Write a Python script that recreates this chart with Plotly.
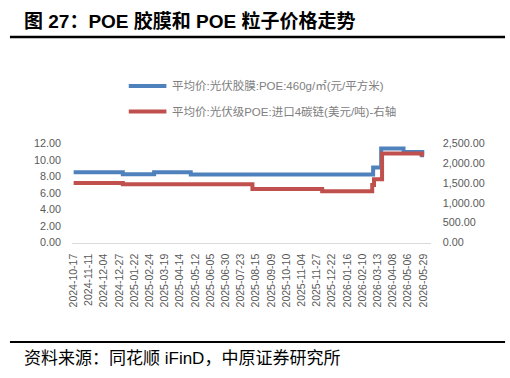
import plotly.graph_objects as go

# ---------------- data ----------------
tick_labels = [
    "2024-10-17", "2024-11-11", "2024-12-04", "2024-12-27", "2025-01-22", "2025-02-24",
    "2025-03-19", "2025-04-14", "2025-05-12", "2025-06-05", "2025-06-30", "2025-07-23",
    "2025-08-15", "2025-09-09", "2025-10-10", "2025-11-04", "2025-11-27", "2025-12-22",
    "2026-01-16", "2026-02-10", "2026-03-13", "2026-04-08", "2026-05-06", "2026-05-29",
]
days_per_tick = 17          # trading days between tick labels
last_day = 392              # index of last trading day in the series

# POE film price (yuan / m2), step changes: trading-day index -> value
film_change_day = [0, 55, 90, 131, 335, 344, 369, 390]
film_value = [8.50, 8.25, 8.50, 8.22, 9.05, 11.35, 10.95, 10.55]

# POE pellet import price (USD / t), right axis
pellet_change_day = [0, 55, 200, 278, 334, 336, 345, 389]
pellet_value = [1500, 1465, 1350, 1290, 1445, 1590, 2240, 2215]

film_name = "平均价:光伏胶膜:POE:460g/㎡(元/平方米)"
pellet_name = "平均价:光伏级POE:进口4碳链(美元/吨)-右轴"
title_text = "图 27：POE 胶膜和 POE 粒子价格走势"
source_text = "资料来源：同花顺 iFinD，中原证券研究所"

# ---------------- figure ----------------
W, H = 510, 378
BLUE = "#4F81BD"
RED = "#C0504D"
FONT = "Liberation Sans, Arial, Noto Sans CJK SC, sans-serif"


def px(x):
    return x / W


def py(y):
    return 1 - y / H


fig = go.Figure()
fig.add_trace(go.Scatter(
    x=film_change_day + [last_day], y=film_value + [film_value[-1]],
    mode="lines", line=dict(color=BLUE, width=4, shape="hv"),
    name=film_name, yaxis="y", showlegend=False,
))
fig.add_trace(go.Scatter(
    x=pellet_change_day + [last_day], y=pellet_value + [pellet_value[-1]],
    mode="lines", line=dict(color=RED, width=4, shape="hv"),
    name=pellet_name, yaxis="y2", showlegend=False,
))

tickvals = [i * days_per_tick for i in range(len(tick_labels))]

fig.update_layout(
    width=W, height=H,
    margin=dict(l=0, r=0, t=0, b=0, pad=0),
    paper_bgcolor="white", plot_bgcolor="white",
    font=dict(family=FONT, color="#595959"),
    xaxis=dict(
        domain=[px(67.7), px(430)],
        range=[-1.8, 399.5],
        tickmode="array", tickvals=tickvals, ticktext=tick_labels,
        tickangle=-90, tickfont=dict(size=10.5, color="#595959"),
        showgrid=False, zeroline=False,
        showline=True, linecolor="#D9D9D9", linewidth=1,
        ticks="", ticklabelstandoff=6,
    ),
    yaxis=dict(
        domain=[py(244.3), py(141.7)],
        range=[0, 12], dtick=2, tickformat=".2f",
        tickfont=dict(size=10.8, color="#595959"),
        showgrid=False, zeroline=False, showline=False,
        ticks="", ticklabelstandoff=10,
    ),
    yaxis2=dict(
        overlaying="y", side="right", anchor="x",
        range=[0, 2500], dtick=500, tickformat=",.2f",
        tickfont=dict(size=10.8, color="#595959"),
        showgrid=False, zeroline=False, showline=False,
        ticks="", ticklabelstandoff=11,
    ),
    showlegend=False,
)

shapes = [
    # top rule under title
    dict(type="line", xref="paper", yref="paper", x0=px(5), x1=px(505), y0=py(32), y1=py(32),
         line=dict(color="black", width=2.6)),
    # bottom rule above source
    dict(type="line", xref="paper", yref="paper", x0=px(5), x1=px(505), y0=py(347), y1=py(347),
         line=dict(color="black", width=2.2)),
]
annotations = [
    dict(text="<b>" + title_text + "</b>", xref="paper", yref="paper", x=px(17), y=py(16),
         xanchor="left", yanchor="middle", showarrow=False,
         font=dict(size=19, color="black", family=FONT)),
    dict(text=source_text, xref="paper", yref="paper", x=px(17), y=py(364),
         xanchor="left", yanchor="middle", showarrow=False,
         font=dict(size=17, color="black", family=FONT)),
]

# manual legend
legend_items = [(film_name, BLUE, 82.5), (pellet_name, RED, 109)]
for name, color, ly in legend_items:
    shapes.append(dict(type="line", xref="paper", yref="paper",
                       x0=px(125), x1=px(163), y0=py(ly), y1=py(ly),
                       line=dict(color=color, width=4)))
    annotations.append(dict(text=name, xref="paper", yref="paper", x=px(167), y=py(ly),
                            xanchor="left", yanchor="middle", showarrow=False,
                            font=dict(size=11.5, color="#808080", family=FONT)))

fig.update_layout(shapes=shapes, annotations=annotations)
fig.write_html("out.html")
